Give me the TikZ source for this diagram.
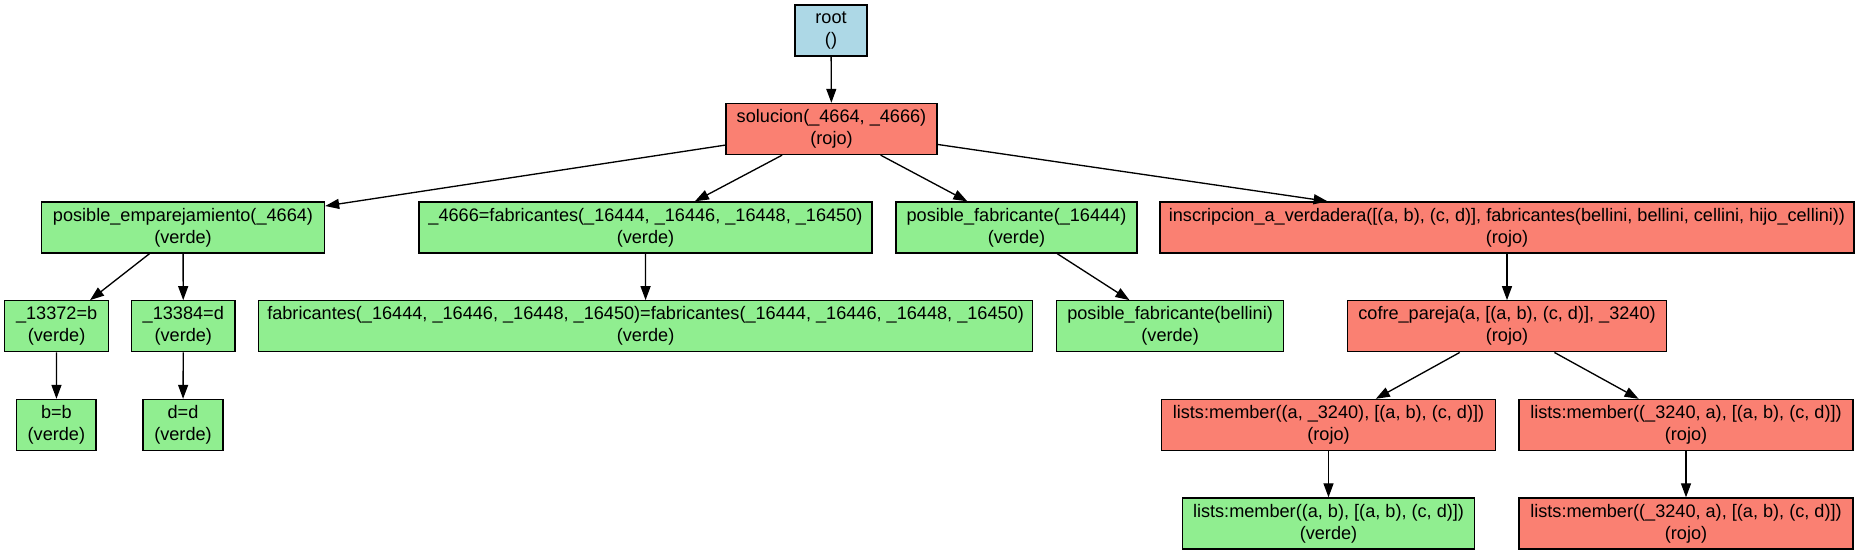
\documentclass[tikz,border=0pt]{standalone}
\usepackage{fontspec}
\setmainfont{Liberation Sans}
\usetikzlibrary{arrows.meta}
\definecolor{gvblue}{HTML}{ADD8E6}
\definecolor{gvred}{HTML}{FA8072}
\definecolor{gvgreen}{HTML}{90EE90}
\begin{document}
\begin{tikzpicture}[x=0.75pt,y=-0.75pt,
  box/.style={draw=black, line width=1pt, inner sep=0pt, minimum height=38.25pt,
    align=center, font=\fontsize{13.6}{16.5}\selectfont},
  ok/.style={box, fill=gvgreen},
  bad/.style={box, fill=gvred},
  edge/.style={draw=black, line width=1pt, -{Triangle[length=10.5pt,width=7.5pt]}}]
\useasboundingbox (0,0) rectangle (1859,555);
% row 0
\node[box, fill=gvblue, minimum width=54pt] (root) at (831,30.5) {root\\()};
% row 1
\node[bad, minimum width=158.25pt] (sol) at (831.5,129) {solucion(\_4664, \_4666)\\(rojo)};
% row 2
\node[ok, minimum width=212.25pt] (pe) at (183,227.5) {posible\_emparejamiento(\_4664)\\(verde)};
\node[ok, minimum width=339.75pt] (f4666) at (645.5,227.5) {\_4666=fabricantes(\_16444, \_16446, \_16448, \_16450)\\(verde)};
\node[ok, minimum width=180.75pt] (pf) at (1016.5,227.5) {posible\_fabricante(\_16444)\\(verde)};
\node[bad, minimum width=520.5pt] (insc) at (1507,227.5) {inscripcion\_a\_verdadera([(a, b), (c, d)], fabricantes(bellini, bellini, cellini, hijo\_cellini))\\(rojo)};
% row 3
\node[ok, minimum width=77.85pt] (n13372) at (56.6,326.3) {\_13372=b\\(verde)};
\node[ok, minimum width=77.4pt] (n13384) at (183.3,326.3) {\_13384=d\\(verde)};
\node[ok, minimum width=580.5pt] (fab) at (645.6,326.3) {fabricantes(\_16444, \_16446, \_16448, \_16450)=fabricantes(\_16444, \_16446, \_16448, \_16450)\\(verde)};
\node[ok, minimum width=170.4pt] (pfb) at (1170.1,326.3) {posible\_fabricante(bellini)\\(verde)};
\node[bad, minimum width=238.9pt] (cofre) at (1507,326.3) {cofre\_pareja(a, [(a, b), (c, d)], \_3240)\\(rojo)};
% row 4
\node[ok, minimum width=59.6pt] (bb) at (56.4,425) {b=b\\(verde)};
\node[ok, minimum width=60pt] (dd) at (183,425) {d=d\\(verde)};
\node[bad, minimum width=250.5pt] (lm1) at (1328.5,425) {lists:member((a, \_3240), [(a, b), (c, d)])\\(rojo)};
\node[bad, minimum width=250.5pt] (lm2) at (1686,425) {lists:member((\_3240, a), [(a, b), (c, d)])\\(rojo)};
% row 5
\node[ok, minimum width=219.3pt] (lm3) at (1328.5,523.5) {lists:member((a, b), [(a, b), (c, d)])\\(verde)};
\node[bad, minimum width=250.5pt] (lm4) at (1686,523.5) {lists:member((\_3240, a), [(a, b), (c, d)])\\(rojo)};
% edges
\draw[edge] (root) -- (sol);
\draw[edge] (sol) -- (pe);
\draw[edge] (sol) -- (f4666);
\draw[edge] (sol) -- (pf);
\draw[edge] (sol) -- (insc);
\draw[edge] (pe) -- (n13372);
\draw[edge] (pe) -- (n13384);
\draw[edge] (f4666) -- (fab);
\draw[edge] (pf) -- (pfb);
\draw[edge] (insc) -- (cofre);
\draw[edge] (n13372) -- (bb);
\draw[edge] (n13384) -- (dd);
\draw[edge] (cofre) -- (lm1);
\draw[edge] (cofre) -- (lm2);
\draw[edge] (lm1) -- (lm3);
\draw[edge] (lm2) -- (lm4);
\end{tikzpicture}
\end{document}
